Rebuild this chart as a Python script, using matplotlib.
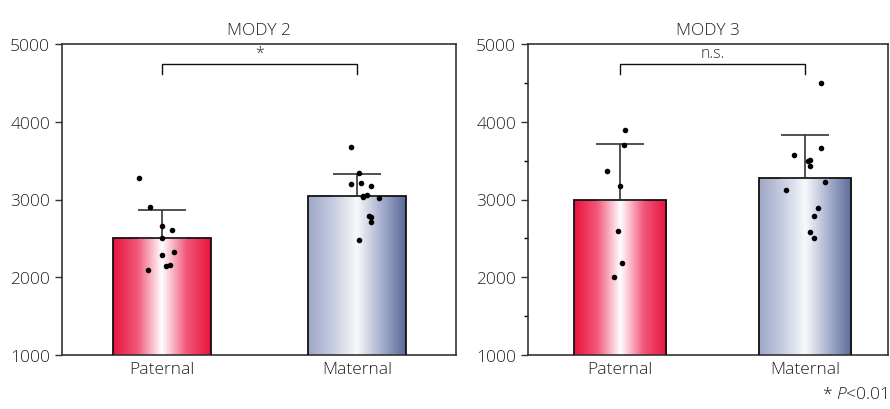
import numpy as np
import matplotlib
matplotlib.use("Agg")
import matplotlib.pyplot as plt
from matplotlib.colors import LinearSegmentedColormap

plt.rcParams['font.family'] = ['Open Sans', 'DejaVu Sans']
plt.rcParams['font.weight'] = 'light'
plt.rcParams['mathtext.fontset'] = 'custom'
plt.rcParams['mathtext.it'] = 'Open Sans:italic:light'

groups = ['Paternal', 'Maternal']

# MODY 2
m2_mean = [2505, 3040]
m2_sd = [365, 290]
m2_pat = [3277, 2907, 2659, 2604, 2501, 2325, 2282, 2154, 2141, 2093]
m2_mat = [3671, 3336, 3199, 3212, 3174, 3045, 3062, 3036, 3023, 2788, 2775, 2714, 2483]
m2_pat_x = [-0.12, -0.06, 0.0, 0.05, 0.0, 0.06, 0.0, 0.04, 0.02, -0.07]
m2_mat_x = [-0.03, 0.01, -0.03, 0.02, 0.07, 0.03, 0.05, 0.03, 0.11, 0.06, 0.07, 0.07, 0.01]

# MODY 3
m3_mean = [3000, 3280]
m3_sd = [715, 550]
m3_pat = [3894, 3697, 3362, 3174, 2595, 2183, 2007]
m3_mat = [4494, 3667, 3566, 3514, 3492, 3427, 3221, 3119, 2895, 2793, 2578, 2510]
m3_pat_x = [0.03, 0.02, -0.07, 0.0, -0.01, 0.01, -0.03]
m3_mat_x = [0.09, 0.09, -0.06, 0.03, 0.02, 0.03, 0.11, -0.1, 0.07, 0.05, 0.03, 0.05]

red_cmap = LinearSegmentedColormap.from_list(
    'red', ['#e8133d', '#f2587a', '#ffffff', '#f2587a', '#e8133d'])
blue_cmap = LinearSegmentedColormap.from_list(
    'blue', ['#9ea7c6', '#c6cce0', '#f8f9fb', '#a7b0cd', '#5a6998'])


def draw_panel(ax, title, means, sds, pts, pts_x, sig, xlim, minor=False):
    bars = ax.bar([0, 1], means, width=0.5, bottom=0, color='none',
                  edgecolor='#111111', linewidth=1.3, zorder=3)
    grad = np.linspace(0, 1, 256).reshape(1, -1)
    for bar, cmap in zip(bars, [red_cmap, blue_cmap]):
        x0 = bar.get_x()
        w = bar.get_width()
        im = ax.imshow(grad, cmap=cmap, aspect='auto',
                       extent=[x0, x0 + w, 1000, bar.get_height()], zorder=2)
        im.set_clip_path(bar)
    for i in range(2):
        ax.errorbar(i, means[i], yerr=[[0], [sds[i]]], fmt='none',
                    ecolor='#333333', elinewidth=1.2, capsize=17,
                    capthick=1.2, zorder=4)
        ax.scatter(np.array(pts_x[i]) + i, pts[i], s=9, color='black',
                   zorder=5)
    # significance bracket
    y = 4740
    ax.plot([0, 0, 1, 1], [y - 120, y, y, y - 120], color='#111111',
            linewidth=1.0)
    ax.text(0.5, y + 40, sig, ha='center', va='bottom', fontsize=11.5,
            color='#333333')

    ax.set_xlim(*xlim)
    ax.set_ylim(1000, 5000)
    ax.set_yticks([1000, 2000, 3000, 4000, 5000])
    if minor:
        ax.set_yticks([1500, 2500, 3500, 4500], minor=True)
        ax.tick_params(axis='y', which='minor', length=3, width=1)
    ax.set_xticks([0, 1])
    ax.set_xticklabels(groups, fontsize=12.5)
    ax.tick_params(axis='x', length=0, pad=4, labelcolor='#222222')
    ax.tick_params(axis='y', labelsize=12.5, length=5, width=1,
                   color='#333333', labelcolor='#222222')
    for s in ax.spines.values():
        s.set_color('#333333')
        s.set_linewidth(1.2)
    ax.set_title(title, fontsize=12.5, color='#222222', pad=7,
                 fontweight='light')


fig = plt.figure(figsize=(8.9, 4.1), dpi=100)
ax1 = fig.add_axes([62 / 890, 1 - 356 / 410, 394 / 890, 311 / 410])
ax2 = fig.add_axes([528 / 890, 1 - 356 / 410, 360 / 890, 311 / 410])

draw_panel(ax1, 'MODY 2', m2_mean, m2_sd, [m2_pat, m2_mat],
           [m2_pat_x, m2_mat_x], '*', (-0.513, 1.507))
draw_panel(ax2, 'MODY 3', m3_mean, m3_sd, [m3_pat, m3_mat],
           [m3_pat_x, m3_mat_x], 'n.s.', (-0.497, 1.45), minor=True)

fig.text(0.997, 0.018, r'* $\it{P}$<0.01', ha='right', va='bottom',
         fontsize=12.5, color='#222222')

fig.savefig('out.png', dpi=100)
